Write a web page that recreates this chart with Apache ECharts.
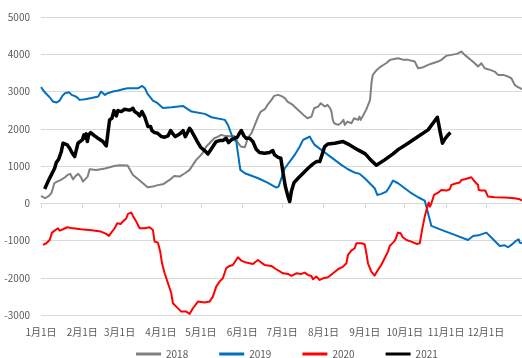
<!DOCTYPE html>
<html>
<head>
<meta charset="utf-8">
<script src="https://cdn.jsdelivr.net/npm/echarts@6/dist/echarts.min.js"></script>
<style>
  html, body { margin: 0; padding: 0; background: #fff; }
  #chart { width: 522px; height: 358px; }
</style>
</head>
<body>
<div id="chart"></div>
<script>
// Month starts as day-of-year offsets, and their labels
const monthDays = [0, 31, 59, 90, 120, 151, 181, 212, 243, 273, 304, 334];
const monthLabels = ['1月1日', '2月1日', '3月1日', '4月1日', '5月1日', '6月1日',
  '7月1日', '8月1日', '9月1日', '10月1日', '11月1日', '12月1日'];

const seriesNames = ['2018', '2019', '2020', '2021'];

// [day of year, value]
const s2018 = [[0,200],[3,134],[6,197],[8,286],[10,537],[12,582],[15,627],[18,698],[20,761],[22,788],[24,644],[26,734],[28,788],[30,698],[31.5,582],[33,627],[35,716],[36.5,913],[38,895],[41.5,895],[48,931],[55,1002],[59,1020],[65,1011],[69,761],[73,644],[76.5,537],[80,430],[84,448],[87,480],[92,519],[96.5,627],[100,734],[104,716],[108,806],[111.5,895],[114,1029],[116.5,1164],[119,1253],[121.5,1360],[124,1522],[126.5,1611],[130,1745],[133,1790],[135,1835],[138,1808],[140,1808],[143,1790],[145,1808],[148,1611],[150,1522],[153,1504],[154,1611],[155,1745],[158,1880],[160,2059],[163,2327],[165,2461],[168,2524],[170,2640],[173,2775],[175,2882],[178,2909],[181,2870],[183,2819],[185,2730],[189,2640],[193,2506],[197,2372],[200,2282],[203,2327],[205,2551],[208,2595],[210,2685],[213,2595],[215,2640],[217,2551],[218,2461],[219,2238],[220,2148],[223,2103],[225,2148],[227,2238],[228,2103],[230,2193],[233,2148],[235,2282],[238,2238],[239,2327],[240,2238],[242,2372],[244,2506],[245,2595],[247,2775],[248,3222],[249,3446],[252,3580],[255,3670],[259,3759],[262,3849],[264,3866],[268,3893],[272,3849],[275.5,3849],[280.5,3804],[283,3625],[287,3652],[290.5,3714],[294,3759],[298,3804],[300.5,3849],[304,3956],[308,3983],[312,4010],[315.5,4072],[318,3983],[322,3866],[325.5,3759],[328,3670],[330.5,3759],[333,3625],[337,3580],[340.5,3535],[343,3446],[347,3446],[350.5,3401],[353,3356],[355.5,3177],[358,3115],[361,3061]];

const s2019 = [[0,3115],[3,2971],[6.5,2846],[9,2730],[11.5,2703],[14,2757],[16,2882],[18,2954],[21,2980],[23,2909],[25,2882],[27,2846],[29,2775],[33,2792],[38,2828],[43,2864],[45,2998],[46.5,3016],[48,2909],[50,2954],[54,2998],[58,3025],[61.5,3061],[65,3088],[69,3088],[73,3088],[76,3150],[78,3088],[80,2936],[84,2757],[87.5,2685],[91.5,2560],[98,2578],[106.5,2613],[113,2461],[123,2399],[128,2309],[138,2238],[140.3,2103],[144,1745],[146.6,1656],[147.8,1343],[149.6,895],[153,806],[163,671],[170,555],[176.6,421],[178.3,448],[180.4,671],[183,940],[186.7,1119],[190.4,1298],[194.2,1522],[196.7,1701],[199.2,1745],[201.7,1790],[203,1701],[205.4,1566],[210.4,1432],[215.4,1298],[220.4,1164],[225.4,1029],[230.4,913],[235.4,823],[239.2,788],[243,671],[246.7,537],[250.4,403],[252.4,224],[255.4,251],[259.2,313],[261.7,448],[264.2,609],[268,537],[273,403],[278,269],[283,161],[288,72],[290.5,-268],[293,-609],[300.5,-716],[310.5,-850],[320.5,-985],[324.3,-877],[329.3,-850],[334.3,-788],[339.3,-967],[344.3,-1146],[348,-1128],[350.5,-1181],[353,-1119],[356.8,-1002],[358.5,-967],[359.3,-1056],[361,-1074]];

const s2020 = [[1.5,-1119],[4,-1074],[6.5,-985],[8.25,-788],[10.25,-734],[11.5,-698],[12.75,-671],[14,-734],[16.5,-698],[19.75,-644],[22.75,-662],[30,-698],[38,-725],[45,-761],[49,-823],[51,-877],[52.75,-788],[55.25,-671],[57.25,-537],[59.75,-555],[61.5,-492],[64,-403],[65.25,-286],[67.75,-251],[69,-340],[71.5,-492],[74,-671],[77.75,-671],[81.5,-644],[84,-716],[85.25,-1029],[87.75,-1056],[89.5,-1300],[90.75,-1600],[92.8,-1880],[95.3,-2148],[97.8,-2417],[99,-2685],[101.5,-2775],[105.3,-2909],[109,-2909],[111.5,-2971],[114,-2819],[117.8,-2640],[122.8,-2667],[126.5,-2640],[129,-2506],[131.5,-2238],[134,-2103],[136.5,-2014],[139,-1745],[141.5,-1683],[144,-1656],[147.8,-1450],[150.3,-1539],[154,-1593],[159,-1629],[162.8,-1522],[165.3,-1593],[167.8,-1656],[172.8,-1683],[176.5,-1772],[178,-1808],[181.7,-1880],[185.4,-1897],[187.9,-1951],[191.7,-1880],[195.4,-1897],[197.9,-1862],[200.4,-1924],[202.9,-1951],[204.2,-2041],[206.7,-1969],[209.2,-2059],[211.7,-2014],[215.4,-1987],[219.2,-1880],[222.9,-1772],[226.7,-1701],[229.2,-1611],[230.4,-1387],[232.9,-1271],[235.4,-1208],[236.7,-1074],[240.4,-1074],[242.9,-1101],[244.2,-1343],[245.4,-1611],[247.9,-1835],[250.4,-1942],[252.9,-1790],[255.4,-1656],[257.9,-1477],[260.4,-1298],[261.7,-1146],[264.2,-1056],[265.9,-985],[267.9,-788],[269.9,-806],[271.5,-913],[274.3,-985],[278,-1029],[281.8,-1092],[284.3,-1074],[286,-716],[288,-358],[290,-90],[291,18],[292,-90],[293,0],[295,224],[298,286],[300.5,358],[304.3,340],[306.8,376],[308,492],[311.8,537],[314.3,555],[315.5,627],[318,644],[320.5,671],[323,698],[325.5,582],[328,492],[328.5,358],[330.5,340],[333.5,340],[335.5,179],[336.8,134],[340.5,161],[348,152],[355.5,134],[359.3,107],[361,72]];

const s2021 = [[2.75,385],[5.25,582],[7.75,761],[10.25,940],[11.5,1092],[13.25,1181],[14,1208],[15.25,1387],[16.5,1611],[17.75,1629],[19.75,1566],[21.5,1477],[23.5,1343],[25.25,1253],[26.5,1235],[27.75,1611],[29,1656],[31,1701],[32.25,1835],[33.25,1745],[34,1862],[34.75,1656],[35.75,1835],[37.25,1897],[40.25,1808],[42.75,1745],[46.5,1656],[49,1539],[50.25,1897],[51.5,2238],[53.25,2282],[54.75,2488],[56.5,2345],[57.75,2488],[60.25,2461],[62.75,2524],[65.25,2506],[67.25,2506],[69,2551],[70.25,2461],[72.25,2417],[74,2345],[75.75,2461],[77.75,2327],[79,2193],[80.25,2059],[82.25,2059],[83.25,1951],[85.25,1897],[87.5,1880],[90.3,1790],[92.8,1772],[95.3,1808],[97.3,1951],[99,1862],[100.8,1790],[102.8,1835],[104.8,1880],[106.6,1951],[108.3,1790],[110.3,1924],[111.5,2014],[112.8,1951],[115.3,1790],[117.3,1656],[119.8,1504],[122.8,1414],[125.3,1325],[127.3,1432],[129,1522],[131.5,1656],[134,1683],[136.5,1683],[139,1745],[140.8,1629],[142.8,1701],[145.3,1745],[147.3,1772],[149,1880],[150.3,1951],[152.3,1808],[154,1745],[156.5,1745],[159,1656],[161.5,1450],[164,1360],[167.8,1343],[171.5,1360],[174,1414],[175.3,1298],[176.5,1253],[178,1230],[180,1208],[181.7,806],[183.4,448],[185.4,179],[186.7,45],[187.9,313],[189.9,555],[192.9,671],[196.7,806],[200.4,940],[204.2,1056],[206.7,1119],[209.2,1119],[210.9,1298],[212.9,1522],[215.4,1593],[220.4,1611],[226.7,1656],[231.7,1566],[237.9,1432],[243.4,1325],[247.4,1164],[251.7,1020],[257.9,1164],[264.2,1325],[268,1440],[275.5,1611],[283,1790],[290.5,1969],[297.5,2309],[299.3,1969],[301.3,1611],[303,1719],[305.5,1835],[307.3,1897]];

const yTicks = [-3000, -2000, -1000, 0, 1000, 2000, 3000, 4000, 5000];

const colors = ['#808080', '#0070C0', '#FF0000', '#000000'];
const widths = [2, 2, 2, 3.5];
const allData = [s2018, s2019, s2020, s2021];

const FONT = '"Noto Sans CJK SC", "Noto Sans", sans-serif';
const labelColor = '#595959';
const gridColor = '#D9D9D9';

const chart = echarts.init(document.getElementById('chart'), null, { renderer: 'canvas' });

chart.setOption({
  backgroundColor: '#ffffff',
  animation: false,
  textStyle: { fontFamily: FONT },
  grid: { left: 41, right: 0, top: 17, bottom: 43, containLabel: false },
  legend: {
    data: seriesNames,
    left: 131,
    top: 344,
    icon: 'rect',
    itemWidth: 25,
    itemHeight: 3,
    itemGap: 31,
    textStyle: { fontSize: 10, color: labelColor, fontFamily: FONT }
  },
  xAxis: [
    {
      // month labels along the bottom
      type: 'value',
      position: 'bottom',
      min: 0,
      max: 361,
      axisLine: { show: false, onZero: false },
      axisTick: { show: false },
      splitLine: { show: false },
      axisLabel: {
        customValues: monthDays,
        formatter: (v) => monthLabels[monthDays.indexOf(v)] || '',
        fontSize: 10,
        color: labelColor,
        fontFamily: FONT,
        margin: 12
      }
    },
    {
      // zero line with month tick marks
      type: 'value',
      position: 'top',
      min: 0,
      max: 361,
      axisLine: { show: true, onZero: true, lineStyle: { color: gridColor, width: 1 } },
      axisTick: { show: true, inside: true, length: 5, customValues: monthDays, lineStyle: { color: gridColor } },
      axisLabel: { show: false },
      splitLine: { show: false }
    }
  ],
  yAxis: {
    type: 'value',
    min: -3000,
    max: 5000,
    interval: 1000,
    axisLine: { show: false },
    axisTick: { show: false },
    splitLine: { show: true, lineStyle: { color: gridColor, width: 1 } },
    axisLabel: {
      fontSize: 10,
      color: labelColor,
      fontFamily: FONT,
      margin: 11,
      customValues: yTicks,
      formatter: (v) => String(v)
    }
  },
  series: seriesNames.map((name, i) => ({
    name,
    type: 'line',
    xAxisIndex: 0,
    data: allData[i],
    showSymbol: false,
    symbol: 'none',
    smooth: false,
    color: colors[i],
    lineStyle: { color: colors[i], width: widths[i], join: 'round' },
    z: 2 + i
  }))
});
</script>
</body>
</html>
